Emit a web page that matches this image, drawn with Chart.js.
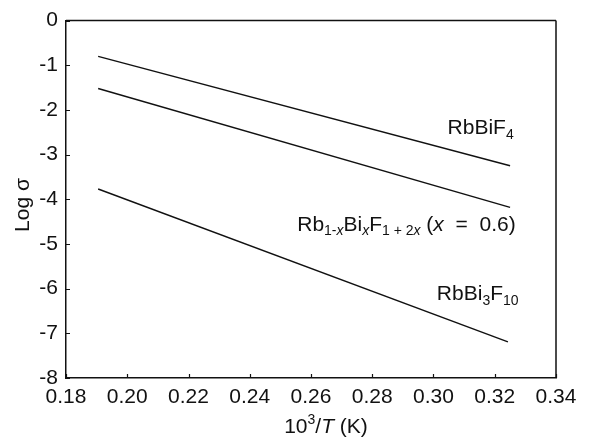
<!DOCTYPE html>
<html>
<head>
<meta charset="utf-8">
<script src="https://cdn.jsdelivr.net/npm/chart.js@4/dist/chart.umd.min.js"></script>
<style>
  html, body { margin: 0; padding: 0; background: #fff; }
  #wrap { width: 599px; height: 438px; }
</style>
</head>
<body>
<div id="wrap"><canvas id="c" width="599" height="438"></canvas></div>
<script>
// Arrhenius-type lines: log conductivity against 10^3/T
const xRbBiF4 = [0.1905, 0.325];
const logRbBiF4 = [-0.80, -3.25];
const xMixed = [0.1905, 0.325];
const logMixed = [-1.52, -4.18];
const xRbBi3F10 = [0.1905, 0.3243];
const logRbBi3F10 = [-3.77, -7.19];

const xTicks = [0.18, 0.20, 0.22, 0.24, 0.26, 0.28, 0.30, 0.32, 0.34];
const yTicks = [0, -1, -2, -3, -4, -5, -6, -7, -8];

// label anchors (left edge / baseline) in data units
const labelRbBiF4 = { x: 0.3046, y: -2.54 };
const labelMixed = { x: 0.2555, y: -4.70 };
const labelRbBi3F10 = { x: 0.3011, y: -6.26 };

const FONT = '"Liberation Sans", Arial, Helvetica, sans-serif';

function pts(xs, ys) { return xs.map((x, i) => ({ x: x, y: ys[i] })); }

// draws a run list: each run {t, sub, sup, it}
function drawRich(ctx, runs, x, y, size) {
  let cx = x;
  runs.forEach(r => {
    const s = (r.sub || r.sup) ? Math.round(size * 0.66) : size;
    ctx.font = (r.it ? 'italic ' : '') + s + 'px ' + FONT;
    let dy = 0;
    if (r.sub) dy = size * 0.22;
    if (r.sup) dy = -size * 0.42;
    ctx.fillText(r.t, cx, y + dy);
    cx += ctx.measureText(r.t).width;
  });
  return cx - x;
}
function measureRich(ctx, runs, size) {
  let w = 0;
  runs.forEach(r => {
    const s = (r.sub || r.sup) ? Math.round(size * 0.66) : size;
    ctx.font = (r.it ? 'italic ' : '') + s + 'px ' + FONT;
    w += ctx.measureText(r.t).width;
  });
  return w;
}

const framePlugin = {
  id: 'frame',
  afterDraw(chart) {
    const ctx = chart.ctx;
    const a = chart.chartArea;
    const xs = chart.scales.x, ys = chart.scales.y;
    ctx.save();
    ctx.strokeStyle = '#111';
    ctx.lineWidth = 1.5;
    // top and right sides of the box
    ctx.beginPath();
    ctx.moveTo(a.left, a.top); ctx.lineTo(a.right, a.top);
    ctx.moveTo(a.right, a.top); ctx.lineTo(a.right, a.bottom);
    ctx.stroke();
    // inward tick marks
    ctx.lineWidth = 1.2;
    ctx.beginPath();
    xTicks.forEach(v => {
      const px = Math.round(xs.getPixelForValue(v)) + 0.5;
      ctx.moveTo(px, a.bottom); ctx.lineTo(px, a.bottom - 4);
    });
    yTicks.forEach(v => {
      const py = Math.round(ys.getPixelForValue(v)) + 0.5;
      ctx.moveTo(a.left, py); ctx.lineTo(a.left + 4, py);
    });
    ctx.stroke();

    ctx.fillStyle = '#111';
    ctx.textBaseline = 'alphabetic';
    ctx.textAlign = 'left';
    const size = 21;
    const put = (runs, anchor) => {
      drawRich(ctx, runs, xs.getPixelForValue(anchor.x), ys.getPixelForValue(anchor.y), size);
    };
    put([{ t: 'RbBiF' }, { t: '4', sub: true }], labelRbBiF4);
    put([
      { t: 'Rb' }, { t: '1-', sub: true }, { t: 'x', sub: true, it: true },
      { t: 'Bi' }, { t: 'x', sub: true, it: true },
      { t: 'F' }, { t: '1 + 2', sub: true }, { t: 'x', sub: true, it: true },
      { t: ' (' }, { t: 'x', it: true }, { t: '  =  0.6)' }
    ], labelMixed);
    put([{ t: 'RbBi' }, { t: '3', sub: true }, { t: 'F' }, { t: '10', sub: true }], labelRbBi3F10);

    // x axis title
    const xt = [{ t: '10' }, { t: '3', sup: true }, { t: '/' }, { t: 'T', it: true }, { t: ' (K)' }];
    const tsize = 21;
    const w = measureRich(ctx, xt, tsize);
    drawRich(ctx, xt, 326 - w / 2, 433, tsize);

    // y axis title
    ctx.save();
    ctx.translate(29, 205);
    ctx.rotate(-Math.PI / 2);
    ctx.font = tsize + 'px ' + FONT;
    ctx.textAlign = 'center';
    ctx.fillText('Log \u03C3', 0, 0);
    ctx.restore();
    ctx.restore();
  }
};

const lineStyle = { borderColor: '#111', borderWidth: 1.4, pointRadius: 0, showLine: true, fill: false, tension: 0 };

new Chart(document.getElementById('c'), {
  type: 'scatter',
  data: {
    datasets: [
      Object.assign({ label: 'RbBiF4', data: pts(xRbBiF4, logRbBiF4) }, lineStyle),
      Object.assign({ label: 'Rb1-xBixF1+2x', data: pts(xMixed, logMixed) }, lineStyle),
      Object.assign({ label: 'RbBi3F10', data: pts(xRbBi3F10, logRbBi3F10) }, lineStyle)
    ]
  },
  options: {
    responsive: false,
    animation: false,
    layout: { padding: { top: 19, right: 43, left: 0, bottom: 0 } },
    plugins: { legend: { display: false }, tooltip: { enabled: false } },
    scales: {
      x: {
        type: 'linear',
        min: 0.18, max: 0.34,
        afterBuildTicks(s) { s.ticks = xTicks.map(v => ({ value: v })); },
        afterFit(s) { s.height = 60; },
        grid: { display: true, drawOnChartArea: false, drawTicks: false },
        border: { display: true, color: '#111', width: 1.5 },
        ticks: {
          padding: 7,
          color: '#111',
          font: { family: FONT, size: 21 },
          maxRotation: 0,
          autoSkip: false,
          callback: v => Number(v).toFixed(2)
        }
      },
      y: {
        type: 'linear',
        min: -8, max: 0,
        afterBuildTicks(s) { s.ticks = yTicks.map(v => ({ value: v })); },
        afterFit(s) { s.width = 66; },
        grid: { display: true, drawOnChartArea: false, drawTicks: false },
        border: { display: true, color: '#111', width: 1.5 },
        ticks: {
          padding: 8,
          color: '#111',
          font: { family: FONT, size: 21 },
          autoSkip: false,
          callback: v => String(v)
        }
      }
    }
  },
  plugins: [framePlugin]
});
</script>
</body>
</html>
